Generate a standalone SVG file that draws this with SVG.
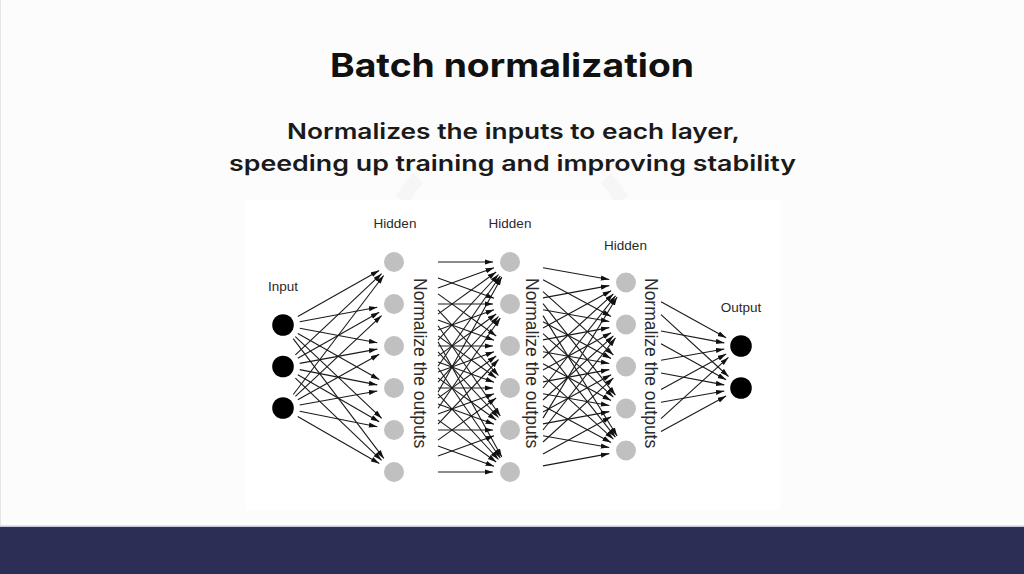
<svg xmlns="http://www.w3.org/2000/svg" width="1024" height="574" viewBox="0 0 1024 574">
<defs>
<style>
.title{font-family:Inter,"Open Sans","Liberation Sans",sans-serif;font-weight:700;font-size:33px;fill:#111;text-anchor:middle}
.sub{font-family:Inter,"Open Sans","Liberation Sans",sans-serif;font-weight:600;font-size:21.5px;fill:#1a1a1a;text-anchor:middle}
.lbl{font-family:"Liberation Sans",Arial,sans-serif;font-size:13.5px;fill:#2a2a2a;text-anchor:middle}
.vt{font-family:"Liberation Sans",Arial,sans-serif;font-size:17.5px;fill:#2a2a2a}
.in{fill:#000}
.hid{fill:#c0c0c0}
#connectors line{stroke:#1a1a1a;stroke-width:1.1;marker-end:url(#ah)}
</style>
<marker id="ah" markerUnits="userSpaceOnUse" markerWidth="9" markerHeight="6" refX="8.5" refY="2.6" orient="auto">
<path d="M0,0 L8.5,2.6 L0,5.2 z" fill="#111"/>
</marker>
</defs>
<rect x="0" y="0" width="1024" height="574" fill="#fcfcfc"/>
<line x1="0.5" y1="0" x2="0.5" y2="526" stroke="#e6e6e6"/>
<path d="M402,200 A110,110 0 0 1 418,178" fill="none" stroke="#f6f6f6" stroke-width="14"/>
<path d="M606,178 A110,110 0 0 1 622,200" fill="none" stroke="#f6f6f6" stroke-width="14"/>
<rect x="246" y="200" width="534" height="310" fill="#ffffff"/>
<rect x="0" y="525.5" width="1024" height="1.5" fill="#c9cadf"/>
<rect x="0" y="527" width="1024" height="47" fill="#2c2e56"/>

<g id="title"><text class="title" x="512" y="77" textLength="364" lengthAdjust="spacingAndGlyphs">Batch normalization</text></g>
<g id="subtitle">
<text class="sub" x="513.5" y="139" textLength="453" lengthAdjust="spacingAndGlyphs">Normalizes the inputs to each layer,</text>
<text class="sub" x="512.5" y="171" textLength="567" lengthAdjust="spacingAndGlyphs">speeding up training and improving stability</text>
</g>

<g id="connectors">
<line x1="297.8" y1="316.6" x2="379.2" y2="270.4"/>
<line x1="299.7" y1="321.8" x2="377.3" y2="307.2"/>
<line x1="299.7" y1="328.2" x2="377.3" y2="342.8"/>
<line x1="297.8" y1="333.4" x2="379.2" y2="379.6"/>
<line x1="295.3" y1="336.7" x2="381.7" y2="418.3"/>
<line x1="293.2" y1="338.6" x2="383.8" y2="458.4"/>
<line x1="295.4" y1="354.8" x2="381.6" y2="273.7"/>
<line x1="297.8" y1="358.2" x2="379.2" y2="312.3"/>
<line x1="299.7" y1="363.4" x2="377.3" y2="349.1"/>
<line x1="299.7" y1="369.6" x2="377.3" y2="384.9"/>
<line x1="297.8" y1="374.8" x2="379.2" y2="421.7"/>
<line x1="295.4" y1="378.2" x2="381.6" y2="460.3"/>
<line x1="293.3" y1="394.5" x2="383.7" y2="275.5"/>
<line x1="295.4" y1="396.4" x2="381.6" y2="315.6"/>
<line x1="297.8" y1="399.7" x2="379.2" y2="354.3"/>
<line x1="299.7" y1="405.0" x2="377.3" y2="391.0"/>
<line x1="299.7" y1="411.3" x2="377.3" y2="426.7"/>
<line x1="297.7" y1="416.5" x2="379.3" y2="463.5"/>

<line x1="438" y1="262" x2="493" y2="262"/>
<line x1="438" y1="277.9" x2="494" y2="298.2"/>
<line x1="438" y1="293.9" x2="496.2" y2="336"/>
<line x1="438" y1="309.8" x2="498.5" y2="375.5"/>
<line x1="438" y1="325.7" x2="500.3" y2="416"/>
<line x1="438" y1="341.7" x2="501.8" y2="457.1"/>
<line x1="438" y1="288.1" x2="494" y2="267.8"/>
<line x1="438" y1="304" x2="493" y2="304"/>
<line x1="438" y1="319.9" x2="494" y2="340.2"/>
<line x1="438" y1="335.9" x2="496.2" y2="378"/>
<line x1="438" y1="351.8" x2="498.5" y2="417.5"/>
<line x1="438" y1="367.7" x2="500.3" y2="458"/>
<line x1="438" y1="314.1" x2="496.2" y2="272"/>
<line x1="438" y1="330.1" x2="494" y2="309.8"/>
<line x1="438" y1="346" x2="493" y2="346"/>
<line x1="438" y1="361.9" x2="494" y2="382.2"/>
<line x1="438" y1="377.9" x2="496.2" y2="420"/>
<line x1="438" y1="393.8" x2="498.5" y2="459.5"/>
<line x1="438" y1="340.2" x2="498.5" y2="274.5"/>
<line x1="438" y1="356.1" x2="496.2" y2="314"/>
<line x1="438" y1="372.1" x2="494" y2="351.8"/>
<line x1="438" y1="388" x2="493" y2="388"/>
<line x1="438" y1="403.9" x2="494" y2="424.2"/>
<line x1="438" y1="419.9" x2="496.2" y2="462"/>
<line x1="438" y1="366.3" x2="500.3" y2="276"/>
<line x1="438" y1="382.2" x2="498.5" y2="316.5"/>
<line x1="438" y1="398.1" x2="496.2" y2="356"/>
<line x1="438" y1="414.1" x2="494" y2="393.8"/>
<line x1="438" y1="430" x2="493" y2="430"/>
<line x1="438" y1="445.9" x2="494" y2="466.2"/>
<line x1="438" y1="392.3" x2="501.8" y2="276.9"/>
<line x1="438" y1="408.2" x2="500.3" y2="318"/>
<line x1="438" y1="424.1" x2="498.5" y2="359.5"/>
<line x1="438" y1="440.1" x2="496.2" y2="398"/>
<line x1="438" y1="456" x2="494" y2="435.8"/>
<line x1="438" y1="472" x2="493" y2="472"/>

<line x1="543" y1="267.8" x2="609.3" y2="279.5"/>
<line x1="543" y1="279.8" x2="611" y2="316.4"/>
<line x1="543" y1="291.7" x2="613.4" y2="355.1"/>
<line x1="543" y1="303.7" x2="615.4" y2="395.2"/>
<line x1="543" y1="315.6" x2="617.1" y2="436"/>
<line x1="543" y1="297.9" x2="609.3" y2="285.6"/>
<line x1="543" y1="309.8" x2="609.3" y2="321.5"/>
<line x1="543" y1="321.8" x2="611" y2="358.4"/>
<line x1="543" y1="333.7" x2="613.4" y2="397.1"/>
<line x1="543" y1="345.7" x2="615.4" y2="437.2"/>
<line x1="543" y1="327.9" x2="611.1" y2="290.7"/>
<line x1="543" y1="339.9" x2="609.3" y2="327.6"/>
<line x1="543" y1="351.8" x2="609.3" y2="363.5"/>
<line x1="543" y1="363.8" x2="611" y2="400.4"/>
<line x1="543" y1="375.7" x2="613.4" y2="439.1"/>
<line x1="543" y1="358" x2="613.4" y2="293.9"/>
<line x1="543" y1="369.9" x2="611.1" y2="332.7"/>
<line x1="543" y1="381.9" x2="609.3" y2="369.6"/>
<line x1="543" y1="393.8" x2="609.3" y2="405.5"/>
<line x1="543" y1="405.8" x2="611" y2="442.4"/>
<line x1="543" y1="388" x2="615.5" y2="295.9"/>
<line x1="543" y1="400" x2="613.4" y2="335.9"/>
<line x1="543" y1="411.9" x2="611.1" y2="374.7"/>
<line x1="543" y1="423.9" x2="609.3" y2="411.6"/>
<line x1="543" y1="435.8" x2="609.3" y2="447.5"/>
<line x1="543" y1="418.1" x2="617.1" y2="297"/>
<line x1="543" y1="430" x2="615.5" y2="337.9"/>
<line x1="543" y1="442" x2="613.4" y2="377.9"/>
<line x1="543" y1="453.9" x2="611.1" y2="416.7"/>
<line x1="543" y1="465.9" x2="609.3" y2="453.6"/>

<line x1="661" y1="301.8" x2="726.1" y2="337.8"/>
<line x1="661" y1="314.6" x2="728.5" y2="376.5"/>
<line x1="661" y1="331" x2="724.3" y2="342.9"/>
<line x1="661" y1="343.8" x2="726.1" y2="379.8"/>
<line x1="661" y1="360.3" x2="724.3" y2="349"/>
<line x1="661" y1="373" x2="724.3" y2="384.9"/>
<line x1="661" y1="389.5" x2="726.1" y2="354.1"/>
<line x1="661" y1="402.3" x2="724.3" y2="391"/>
<line x1="661" y1="418.7" x2="728.4" y2="357.4"/>
<line x1="661" y1="431.5" x2="726.1" y2="396.1"/>
</g>

<g id="input-layer">
<text class="lbl" x="283" y="291">Input</text>
<circle class="in" cx="283" cy="325" r="10.8"/>
<circle class="in" cx="283" cy="366.5" r="10.8"/>
<circle class="in" cx="283" cy="408" r="10.8"/>
</g>
<g id="hidden-layer-1">
<text class="lbl" x="395" y="228">Hidden</text>
<circle class="hid" cx="394" cy="262" r="10"/>
<circle class="hid" cx="394" cy="304" r="10"/>
<circle class="hid" cx="394" cy="346" r="10"/>
<circle class="hid" cx="394" cy="388" r="10"/>
<circle class="hid" cx="394" cy="430" r="10"/>
<circle class="hid" cx="394" cy="472" r="10"/>
<text class="vt" transform="translate(414,278) rotate(90)">Normalize the outputs</text>
</g>
<g id="hidden-layer-2">
<text class="lbl" x="510" y="228">Hidden</text>
<circle class="hid" cx="510" cy="262" r="10"/>
<circle class="hid" cx="510" cy="304" r="10"/>
<circle class="hid" cx="510" cy="346" r="10"/>
<circle class="hid" cx="510" cy="388" r="10"/>
<circle class="hid" cx="510" cy="430" r="10"/>
<circle class="hid" cx="510" cy="472" r="10"/>
<text class="vt" transform="translate(526,278) rotate(90)">Normalize the outputs</text>
</g>
<g id="hidden-layer-3">
<text class="lbl" x="625.5" y="250">Hidden</text>
<circle class="hid" cx="626" cy="282.5" r="10"/>
<circle class="hid" cx="626" cy="324.5" r="10"/>
<circle class="hid" cx="626" cy="366.5" r="10"/>
<circle class="hid" cx="626" cy="408.5" r="10"/>
<circle class="hid" cx="626" cy="450.5" r="10"/>
<text class="vt" transform="translate(645,278) rotate(90)">Normalize the outputs</text>
</g>
<g id="output-layer">
<text class="lbl" x="741" y="312">Output</text>
<circle class="in" cx="741" cy="346" r="10.8"/>
<circle class="in" cx="741" cy="388" r="10.8"/>
</g>
</svg>
